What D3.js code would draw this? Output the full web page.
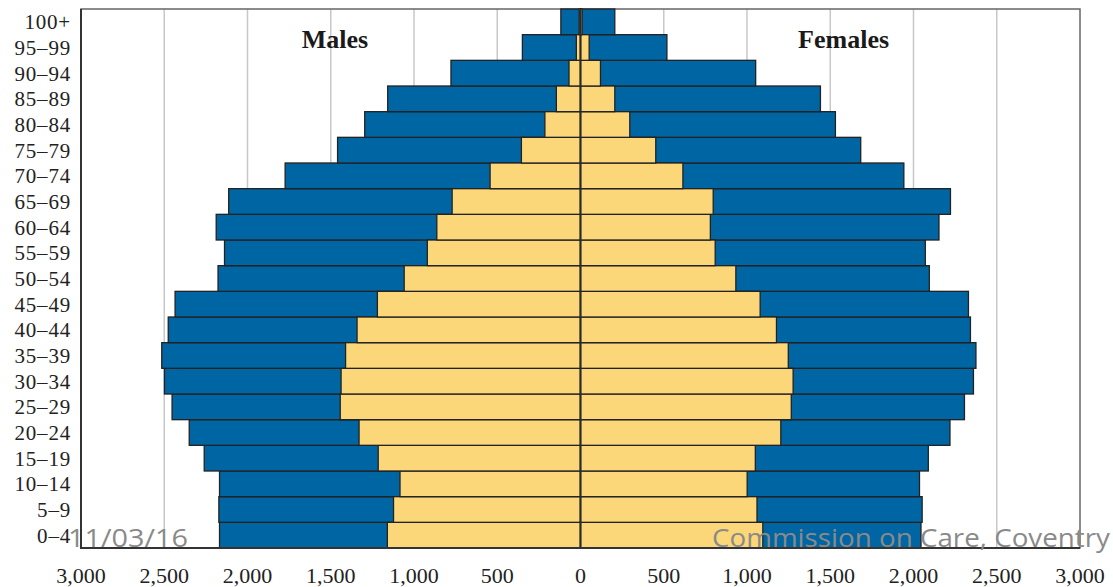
<!DOCTYPE html>
<html>
<head>
<meta charset="utf-8">
<script src="https://cdn.jsdelivr.net/npm/d3@7"></script>
<style>
  body { margin: 0; background: #fff; }
  .age-label { font-family: "Liberation Serif", "DejaVu Serif", serif; font-size: 21px; letter-spacing: 0.8px; fill: #222; }
  .tick-label { font-family: "Liberation Serif", "DejaVu Serif", serif; font-size: 22px; fill: #222; }
  .sex-label { font-family: "Liberation Serif", "DejaVu Serif", serif; font-size: 26px; font-weight: bold; fill: #1a1a1a; }
  .footer { font-family: "Open Sans", "Liberation Sans", sans-serif; font-size: 26px; fill: #8a8a8a; }
</style>
</head>
<body>
<svg id="chart" width="1113" height="587"></svg>
<script>
// ----------

const AGE_GROUPS = ["0–4", "5–9", "10–14", "15–19", "20–24", "25–29", "30–34", "35–39",
  "40–44", "45–49", "50–54", "55–59", "60–64", "65–69", "70–74", "75–79",
  "80–84", "85–89", "90–94", "95–99", "100+"];

// blue bars (outer)
const MALES_BLUE = [2168, 2172, 2168, 2260, 2350, 2453, 2499, 2515, 2476, 2435, 2177,
  2138, 2188, 2113, 1774, 1459, 1296, 1158, 778, 349, 118];
const FEMALES_BLUE = [2045, 2052, 2036, 2089, 2219, 2306, 2360, 2375, 2342, 2330, 2095,
  2071, 2153, 2222, 1942, 1683, 1531, 1441, 1052, 519, 206];

// yellow bars (inner)
const MALES_YELLOW = [1160, 1123, 1084, 1215, 1330, 1443, 1438, 1411, 1342, 1220, 1059,
  920, 863, 771, 543, 355, 214, 145, 69, 25, 8];
const FEMALES_YELLOW = [1095, 1060, 1001, 1050, 1203, 1266, 1277, 1248, 1177, 1079, 933,
  809, 780, 797, 615, 452, 296, 206, 120, 52, 10];

const TICK_VALUES = [-3000, -2500, -2000, -1500, -1000, -500, 0, 500, 1000, 1500, 2000, 2500, 3000];

const BLUE = "#0066a3";
const YELLOW = "#fbd779";
const BAR_STROKE = "#222";

// ----------

function drawPyramid() {
  let svg = d3.select("#chart"),
    left = 81,
    right = 1080,
    top = 9,
    bottom = 548;

  let x = d3.scaleLinear().domain([-3000, 3000]).range([left, right]);
  let y = d3.scaleBand().domain(AGE_GROUPS.slice().reverse()).range([top, bottom]).padding(0);

  // grid lines
  svg.append("g")
    .selectAll("line")
    .data(TICK_VALUES.filter(function (v) { return v !== 0 && Math.abs(v) !== 3000; }))
    .enter()
    .append("line")
    .attr("x1", function (d) { return x(d); })
    .attr("x2", function (d) { return x(d); })
    .attr("y1", top)
    .attr("y2", bottom)
    .attr("stroke", "#c8c8c8")
    .attr("stroke-width", 1.5);

  // plot frame
  svg.append("rect")
    .attr("x", left)
    .attr("y", top)
    .attr("width", right - left)
    .attr("height", bottom - top)
    .attr("fill", "none")
    .attr("stroke", "#666")
    .attr("stroke-width", 1.5);

  let rows = AGE_GROUPS.map(function (age, i) {
    return {
      age: age,
      mBlue: MALES_BLUE[i], fBlue: FEMALES_BLUE[i],
      mYellow: MALES_YELLOW[i], fYellow: FEMALES_YELLOW[i]
    };
  });

  function addBars(cls, color, lo, hi) {
    svg.append("g")
      .selectAll("rect")
      .data(rows)
      .enter()
      .append("rect")
      .attr("class", cls)
      .attr("x", function (d) { return x(lo(d)); })
      .attr("width", function (d) { return x(hi(d)) - x(lo(d)); })
      .attr("y", function (d) { return y(d.age); })
      .attr("height", y.bandwidth())
      .attr("fill", color)
      .attr("stroke", BAR_STROKE)
      .attr("stroke-width", 1.3);
  }

  addBars("male-blue", BLUE, function (d) { return -d.mBlue; }, function () { return 0; });
  addBars("female-blue", BLUE, function () { return 0; }, function (d) { return d.fBlue; });
  addBars("male-yellow", YELLOW, function (d) { return -d.mYellow; }, function () { return 0; });
  addBars("female-yellow", YELLOW, function () { return 0; }, function (d) { return d.fYellow; });

  // zero line
  svg.append("line")
    .attr("x1", x(0)).attr("x2", x(0))
    .attr("y1", top).attr("y2", bottom)
    .attr("stroke", "#2a2a2a")
    .attr("stroke-width", 2);

  // left and bottom axis lines (darker)
  svg.append("path")
    .attr("d", "M" + left + "," + top + "V" + bottom + "H" + right)
    .attr("fill", "none")
    .attr("stroke", "#333")
    .attr("stroke-width", 2);

  // age labels
  svg.append("g")
    .selectAll("text")
    .data(AGE_GROUPS)
    .enter()
    .append("text")
    .attr("class", "age-label")
    .attr("x", left - 10)
    .attr("y", function (d) { return y(d) + y.bandwidth() / 2; })
    .attr("dy", "0.35em")
    .attr("text-anchor", "end")
    .text(function (d) { return d; });

  // x tick labels
  let fmt = d3.format(",");
  svg.append("g")
    .selectAll("text")
    .data(TICK_VALUES)
    .enter()
    .append("text")
    .attr("class", "tick-label")
    .attr("x", function (d) { return x(d); })
    .attr("y", 583)
    .attr("text-anchor", "middle")
    .text(function (d) { return fmt(Math.abs(d)); });

  svg.append("text").attr("class", "sex-label")
    .attr("x", x(-1475)).attr("y", 48).attr("text-anchor", "middle").text("Males");
  svg.append("text").attr("class", "sex-label")
    .attr("x", x(1580)).attr("y", 48).attr("text-anchor", "middle").text("Females");

  // slide footer overlay
  svg.append("text").attr("class", "footer")
    .attr("x", 68).attr("y", 547)
    .attr("textLength", 120).attr("lengthAdjust", "spacingAndGlyphs")
    .text("11/03/16");
  svg.append("text").attr("class", "footer")
    .attr("x", 712).attr("y", 547)
    .attr("textLength", 398).attr("lengthAdjust", "spacingAndGlyphs")
    .text("Commission on Care, Coventry");
}

drawPyramid();
</script>
</body>
</html>
